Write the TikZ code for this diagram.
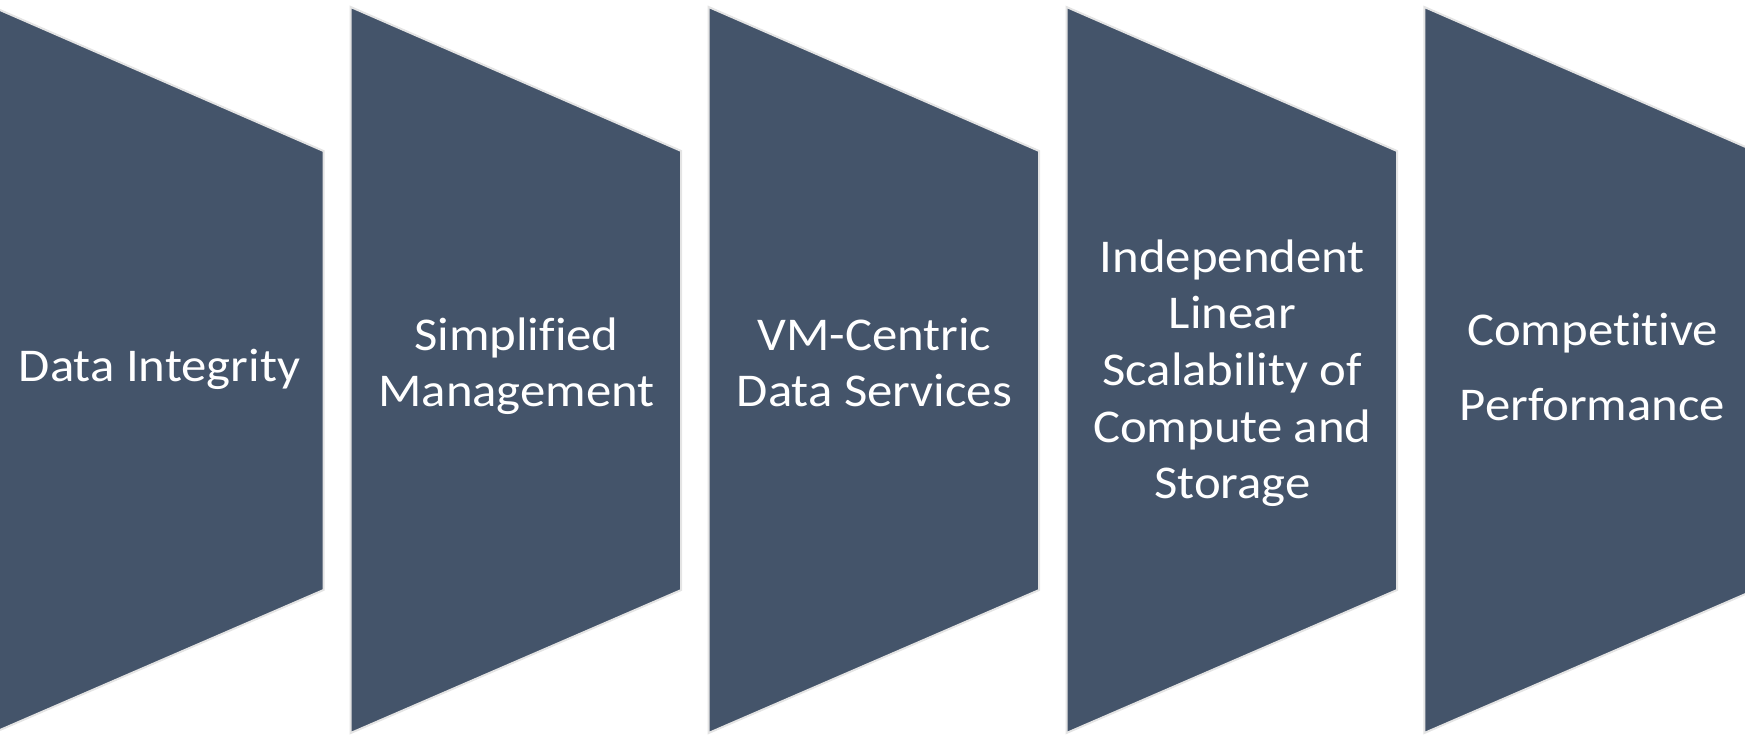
\documentclass[tikz,border=0pt]{standalone}
\usepackage{fontspec}
\setmainfont{Carlito}[Ligatures={NoCommon},FakeStretch=1.08]
\definecolor{slate}{HTML}{44546A}
\definecolor{rim}{HTML}{E4E4E4}
\begin{document}
\begin{tikzpicture}[x=1pt,y=-1pt,
  panel/.style={fill=slate,draw=rim,line width=2pt,line join=miter},
  paneltext/.style={text=white,inner sep=0pt,anchor=base,
    font=\fontsize{47}{56.6}\selectfont}]
\useasboundingbox (0,0) rectangle (1745,735);
\foreach \i/\L in {1/-7,2/350.7,3/708.6,4/1066.5,5/1424.3} {
  \path[panel] (\L,7) coordinate (p\i a) -- ++(330.5,144) coordinate (p\i b)
    -- ++(0,439) coordinate (p\i c) -- (\L,733) coordinate (p\i d) -- cycle;
}
\node[paneltext] (t1) at (159.5,381.7) {\begin{tabular}[t]{@{}c@{}}Data Integrity\end{tabular}};
\node[paneltext] (t2) at (516.5,350) {\begin{tabular}[t]{@{}c@{}}Simplified\\Management\end{tabular}};
\node[paneltext] (t3) at (874.4,350) {\begin{tabular}[t]{@{}c@{}}VM-Centric\\Data Services\end{tabular}};
\node[paneltext] (t4) at (1232.3,272.3) {\begin{tabular}[t]{@{}c@{}}Independent\\Linear\\Scalability of\\Compute and\\Storage\end{tabular}};
\node[paneltext] (t5) at (1592.5,345) {\begin{tabular}[t]{@{}c@{}}Competitive\\[18.4pt]Performance\end{tabular}};
\end{tikzpicture}
\end{document}
